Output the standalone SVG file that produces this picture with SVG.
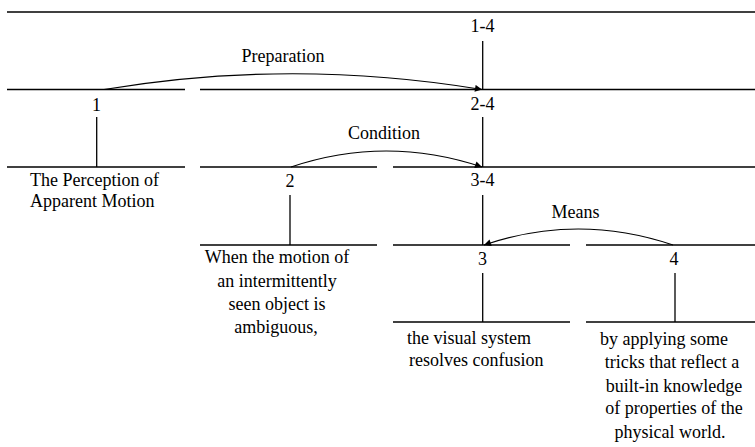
<svg xmlns="http://www.w3.org/2000/svg" width="755" height="447" viewBox="0 0 755 447">
<defs>
<style>
.ln{stroke:#000;stroke-width:1.3;fill:none}
.arc{stroke:#000;stroke-width:1.2;fill:none}
.t{font-family:"Liberation Serif","Times New Roman",serif;font-size:18px;fill:#000}
.m{text-anchor:middle}
</style>
<marker id="ah" viewBox="0 0 10 10" refX="10" refY="5" markerWidth="10" markerHeight="7" markerUnits="userSpaceOnUse" orient="auto">
<path d="M0,0 L10,5 L0,10 z" fill="#000"/>
</marker>
</defs>
<g id="n1-4">
<line class="ln" x1="7" y1="12" x2="755" y2="12"/>
<line class="ln" x1="482.7" y1="41" x2="482.7" y2="89.5"/>
<text class="t m" x="482.5" y="32">1-4</text>
</g>
<g id="n1">
<line class="ln" x1="7" y1="89.5" x2="185" y2="89.5"/>
<line class="ln" x1="96.7" y1="117" x2="96.7" y2="167"/>
<line class="ln" x1="7" y1="167" x2="185" y2="167"/>
<text class="t m" x="96.5" y="111">1</text>
<text class="t" x="30" y="186">The Perception of</text>
<text class="t" x="30" y="207">Apparent Motion</text>
</g>
<g id="n2-4">
<line class="ln" x1="200" y1="89.5" x2="755" y2="89.5"/>
<line class="ln" x1="482.7" y1="117" x2="482.7" y2="167"/>
<text class="t m" x="482.5" y="110">2-4</text>
</g>
<g id="n2">
<line class="ln" x1="200" y1="167" x2="377" y2="167"/>
<line class="ln" x1="290" y1="195" x2="290" y2="245"/>
<line class="ln" x1="200" y1="245" x2="377" y2="245"/>
<text class="t m" x="290" y="187">2</text>
<text class="t m" x="277" y="263">When the motion of</text>
<text class="t m" x="277" y="287">an intermittently</text>
<text class="t m" x="277" y="310">seen object is</text>
<text class="t m" x="276" y="333">ambiguous,</text>
</g>
<g id="n3-4">
<line class="ln" x1="393" y1="167" x2="755" y2="167"/>
<line class="ln" x1="482.7" y1="195" x2="482.7" y2="245"/>
<text class="t m" x="482.5" y="186">3-4</text>
</g>
<g id="n3">
<line class="ln" x1="393" y1="245" x2="570" y2="245"/>
<line class="ln" x1="482.7" y1="273" x2="482.7" y2="322"/>
<line class="ln" x1="393" y1="322" x2="570" y2="322"/>
<text class="t m" x="482.5" y="265">3</text>
<text class="t" x="407" y="344">the visual system</text>
<text class="t" x="409" y="366">resolves confusion</text>
</g>
<g id="n4">
<line class="ln" x1="586" y1="245" x2="755" y2="245"/>
<line class="ln" x1="675" y1="273" x2="675" y2="322"/>
<line class="ln" x1="586" y1="322" x2="755" y2="322"/>
<text class="t m" x="674" y="265">4</text>
<text class="t m" x="664" y="345">by applying some</text>
<text class="t m" x="672" y="368">tricks that reflect a</text>
<text class="t m" x="674" y="392">built-in knowledge</text>
<text class="t m" x="674" y="414">of properties of the</text>
<text class="t m" x="670" y="438">physical world.</text>
</g>
<g id="connectors">
<path class="arc" d="M104,89.5 Q292,58 482,89.5" marker-end="url(#ah)"/>
<path class="arc" d="M291,167 Q386,135 482,167" marker-end="url(#ah)"/>
<path class="arc" d="M673,245 Q578,213 484,245" marker-end="url(#ah)"/>
<text class="t m" x="283" y="62">Preparation</text>
<text class="t m" x="384" y="139">Condition</text>
<text class="t m" x="575.5" y="218">Means</text>
</g>
</svg>
